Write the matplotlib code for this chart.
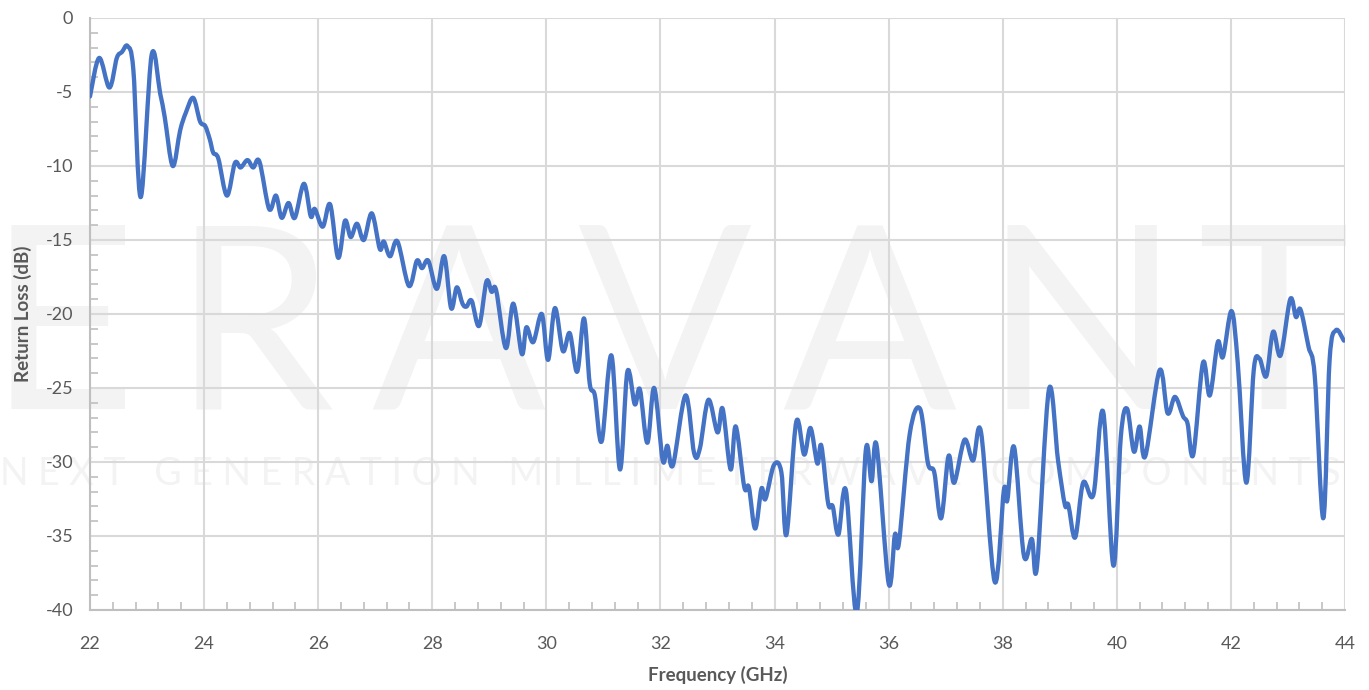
import numpy as np
import matplotlib.pyplot as plt
from matplotlib.ticker import MultipleLocator
from matplotlib.path import Path
from matplotlib.patches import PathPatch

freq = [22.00, 22.16, 22.34, 22.47, 22.56, 22.66, 22.76, 22.89, 23.08, 23.23,
        23.31, 23.45, 23.58, 23.68, 23.81, 23.93, 24.02, 24.10, 24.16, 24.25,
        24.40, 24.54, 24.64, 24.76, 24.86, 24.97, 25.14, 25.26, 25.36, 25.48,
        25.59, 25.75, 25.87, 25.94, 26.08, 26.21, 26.35, 26.47, 26.57, 26.68,
        26.80, 26.94, 27.08, 27.15, 27.26, 27.39, 27.59, 27.73, 27.82, 27.93,
        28.08, 28.21, 28.33, 28.43, 28.53, 28.60, 28.69, 28.82, 28.95, 29.04,
        29.12, 29.29, 29.42, 29.57, 29.65, 29.77, 29.92, 30.03, 30.15, 30.29,
        30.41, 30.54, 30.66, 30.76, 30.85, 30.97, 31.14, 31.29, 31.42, 31.55,
        31.64, 31.77, 31.89, 32.04, 32.12, 32.22, 32.44, 32.59, 32.69, 32.84,
        33.00, 33.09, 33.23, 33.32, 33.47, 33.55, 33.66, 33.77, 33.84, 33.99,
        34.12, 34.21, 34.38, 34.52, 34.63, 34.75, 34.82, 34.94, 35.02, 35.12,
        35.25, 35.44, 35.60, 35.70, 35.79, 36.00, 36.11, 36.18, 36.37, 36.55,
        36.69, 36.80, 36.92, 37.05, 37.15, 37.33, 37.48, 37.62, 37.86, 38.02,
        38.08, 38.20, 38.37, 38.51, 38.60, 38.81, 38.97, 39.09, 39.15, 39.27,
        39.41, 39.59, 39.76, 39.94, 40.07, 40.18, 40.30, 40.40, 40.50, 40.75,
        40.89, 41.02, 41.16, 41.24, 41.34, 41.51, 41.63, 41.77, 41.86, 42.01,
        42.12, 42.27, 42.40, 42.50, 42.62, 42.74, 42.87, 43.04, 43.14, 43.22,
        43.36, 43.47, 43.62, 43.73, 43.84, 43.98]
return_loss = [-5.3, -2.7, -4.7, -2.7, -2.3, -1.9, -3.5, -12.1, -2.5, -5.1,
               -6.7, -10.0, -7.6, -6.4, -5.4, -7.0, -7.3, -8.2, -9.1, -9.5,
               -12.0, -9.8, -10.1, -9.6, -10.1, -9.7, -12.9, -12.0, -13.5, -12.5,
               -13.5, -11.2, -13.4, -12.9, -14.1, -12.6, -16.2, -13.7, -14.8, -13.9,
               -15.0, -13.2, -15.6, -15.1, -16.1, -15.1, -18.1, -16.4, -16.9, -16.4,
               -18.3, -16.1, -19.6, -18.2, -19.3, -19.5, -19.1, -20.8, -17.8, -18.5,
               -18.4, -22.3, -19.3, -22.7, -20.9, -21.9, -20.0, -23.1, -19.6, -22.5,
               -21.3, -23.9, -20.3, -24.7, -25.5, -28.6, -22.8, -30.5, -23.9, -26.1,
               -25.1, -28.7, -25.0, -29.9, -28.9, -30.2, -25.5, -29.4, -29.1, -25.8,
               -28.0, -26.4, -30.5, -27.6, -31.7, -31.7, -34.5, -31.8, -32.5, -30.2,
               -30.7, -34.9, -27.3, -29.5, -27.7, -30.1, -28.9, -32.8, -33.0, -34.9,
               -31.9, -40.2, -29.2, -31.3, -28.9, -38.2, -34.9, -35.5, -28.1, -26.4,
               -30.1, -30.7, -33.8, -29.6, -31.4, -28.5, -29.9, -28.0, -38.1, -31.9,
               -32.6, -29.0, -36.3, -35.2, -37.1, -25.1, -29.9, -32.9, -32.9, -35.1,
               -31.4, -32.2, -26.6, -37.0, -28.3, -26.4, -29.3, -27.6, -29.6, -23.8,
               -26.7, -25.6, -26.9, -27.4, -29.5, -23.3, -25.5, -21.9, -22.9, -19.8,
               -23.3, -31.4, -23.8, -23.0, -24.2, -21.2, -22.8, -19.0, -20.2, -19.7,
               -22.2, -24.2, -33.8, -23.1, -21.1, -21.8]

plt.rcParams['font.family'] = ['Lato', 'DejaVu Sans']
plt.rcParams['axes.unicode_minus'] = False

fig = plt.figure(figsize=(13.69, 6.90), dpi=100)
ax = fig.add_axes([90 / 1369, 1 - 610 / 690, 1255 / 1369, 592 / 690])
ax.set_facecolor('none')

# faint watermark behind everything
wm = '#f3f3f3'
for letter, xc in zip("ERAVANT", [0.045, 0.185, 0.335, 0.485, 0.635, 0.79, 0.93]):
    fig.text(xc, 0.512, letter, color=wm, fontsize=185,
             ha='center', va='center', zorder=-5)
fig.text(0.49, 0.313, "N E X T   G E N E R A T I O N   M I L L I M E T E R W A V E   C O M P O N E N T S",
         color=wm, fontsize=27, ha='center', va='center', zorder=-5)

# smoothed line (like a spreadsheet "smoothed line"): cubic Bezier through the points
P = np.column_stack([freq, return_loss])
Pe = np.vstack([P[0], P, P[-1]])
verts = [P[0]]
codes = [Path.MOVETO]
for i in range(len(P) - 1):
    c1 = Pe[i + 1] + (Pe[i + 2] - Pe[i]) / 6
    c2 = Pe[i + 2] - (Pe[i + 3] - Pe[i + 1]) / 6
    verts += [c1, c2, Pe[i + 2]]
    codes += [Path.CURVE4] * 3
ax.add_patch(PathPatch(Path(verts, codes), facecolor='none', edgecolor='#4472C4',
                       linewidth=3.1, joinstyle='round', capstyle='round', zorder=3))

ax.set_xlim(22, 44)
ax.set_ylim(-40, 0)
ax.xaxis.set_major_locator(MultipleLocator(2))
ax.xaxis.set_minor_locator(MultipleLocator(0.4))
ax.yaxis.set_major_locator(MultipleLocator(5))
ax.yaxis.set_minor_locator(MultipleLocator(1))
ax.grid(True, which='major', color='#d9d9d9', linewidth=1.5)
ax.set_axisbelow(True)
ax.tick_params(which='major', length=0, labelsize=13, labelcolor='#595959')
ax.tick_params(axis='x', which='major', pad=19)
ax.tick_params(axis='y', which='major', pad=12)
ax.tick_params(which='minor', direction='in', length=6, color='#bfbfbf', width=1.2)
for s in ['top', 'right']:
    ax.spines[s].set_visible(False)
for s in ['left', 'bottom']:
    ax.spines[s].set_color('#bfbfbf')
    ax.spines[s].set_linewidth(1.5)

ax.set_xlabel("Frequency (GHz)", fontsize=13.5, fontweight='bold', color='#595959', labelpad=10)
ax.set_ylabel("Return Loss (dB)", fontsize=13.5, fontweight='bold', color='#595959', labelpad=10)

fig.savefig("out.png", dpi=100)
